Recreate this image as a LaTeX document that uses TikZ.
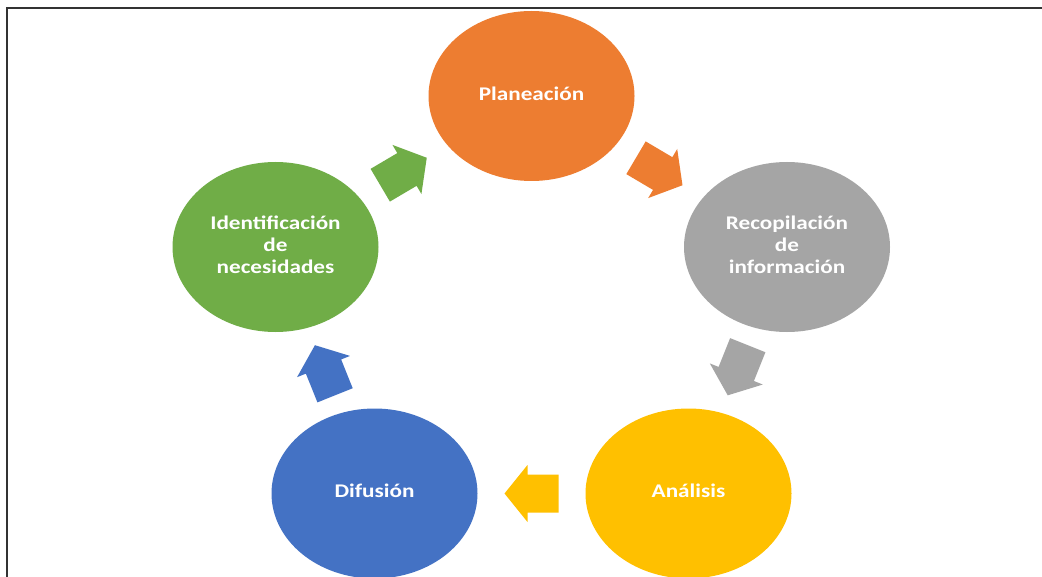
\documentclass[tikz,border=0pt]{standalone}
\usepackage{fontspec}
\setmainfont{Carlito}
\usepackage{graphicx}
\usetikzlibrary{shapes.geometric,calc}

\definecolor{cOrange}{HTML}{ED7D31}
\definecolor{cGray}{HTML}{A5A5A5}
\definecolor{cYellow}{HTML}{FFC000}
\definecolor{cBlue}{HTML}{4472C4}
\definecolor{cGreen}{HTML}{70AD47}
\definecolor{cFrame}{HTML}{333333}

% stage label: centred lines, slightly widened like the original artwork
\newcommand\stagetext[1]{\scalebox{1.2}[1]{\begin{tabular}{@{}c@{}}#1\end{tabular}}}

% block arrow half-way between two stages, pointing from #1 to #2
\newcommand\cyclearrow[3]{%
  \pgfmathanglebetweenpoints{\pgfpointanchor{#1}{center}}{\pgfpointanchor{#2}{center}}%
  \edef\arrowangle{\pgfmathresult}%
  \begin{scope}[shift={($(#1.center)!0.5!(#2.center)$)}, rotate=\arrowangle]
    \fill[#3] (-27,-19) -- (4,-19) -- (4,-28.5) -- (27,0) -- (4,28.5) -- (4,19) -- (-27,19) -- cycle;
  \end{scope}}

\tikzset{
  stage/.style={ellipse, draw=none, inner sep=0pt,
    minimum width=154.5pt, minimum height=127.5pt,
    text=white, font=\fontsize{14.5}{16.5}\selectfont\bfseries},
  frameline/.style={line width=1.6pt, cFrame}
}

\begin{document}
\begin{tikzpicture}[x=0.75pt, y=-0.75pt]
  \useasboundingbox (0,0) rectangle (1042,577);
  \clip (0,0) rectangle (1042,577);
  \fill[white] (0,0) rectangle (1042,577);

  % frame edges
  \draw[frameline] (7,577) -- (7,8) -- (1042,8);

  % the five stages of the cycle
  \node[stage, fill=cOrange] (plan) at (531.5,96) {\stagetext{Planeación}};
  \node[stage, fill=cGray]   (reco) at (787,247) {\stagetext{Recopilación\\de\\información}};
  \node[stage, fill=cYellow] (anal) at (688.5,493.5) {\stagetext{Análisis}};
  \node[stage, fill=cBlue]   (difu) at (374.5,493.5) {\stagetext{Difusión}};
  \node[stage, fill=cGreen]  (iden) at (275.5,247) {\stagetext{Identificación\\de\\necesidades}};

  % arrows around the cycle
  \cyclearrow{plan}{reco}{cOrange}
  \cyclearrow{reco}{anal}{cGray}
  \cyclearrow{anal}{difu}{cYellow}
  \cyclearrow{difu}{iden}{cBlue}
  \cyclearrow{iden}{plan}{cGreen}
\end{tikzpicture}
\end{document}
